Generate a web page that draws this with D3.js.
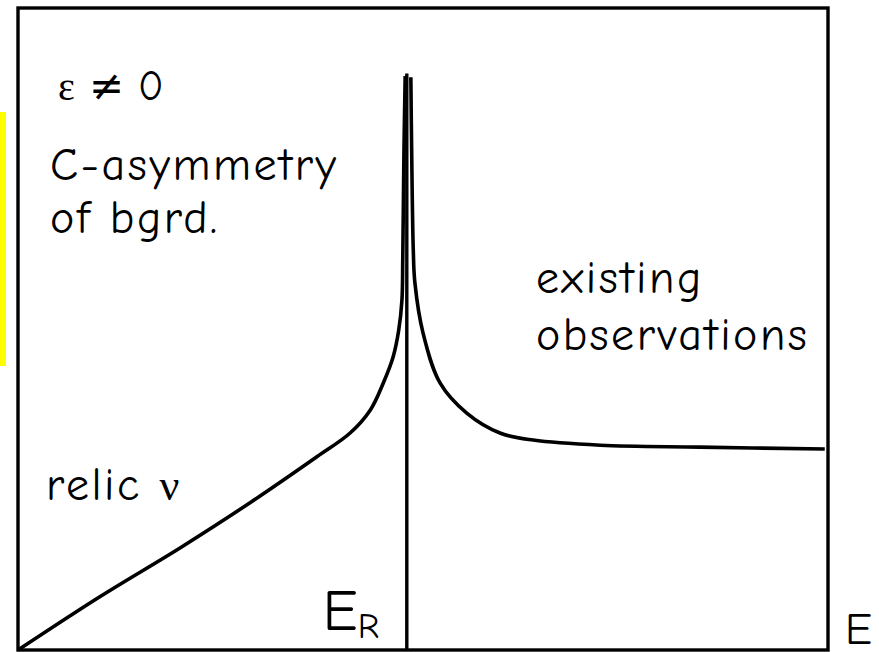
<!DOCTYPE html>
<html>
<head>
<meta charset="utf-8">
<script src="https://cdn.jsdelivr.net/npm/d3@7"></script>
<style>
  body { margin: 0; background: #fff; }
  text { font-family: "Comic Sans MS", "Comic Neue", "DejaVu Sans", sans-serif; fill: #000; }
  .greek { font-family: "Liberation Serif", "DejaVu Serif", serif; }
</style>
</head>
<body>
<div id="chart"></div>
<script>
// Spectre schématique : fond relique + résonance à E_R
const resonanceE = 48.0;
const peakFlux = 89.6;

// branche gauche (relic nu) jusqu'au pic
const leftE    = [0, 10.1, 20.0, 28.6, 36.9, 41.0, 43.5, 45.1, 46.3, 47.0, 47.4, 47.5, 47.65, 47.8];
const leftFlux = [0, 8.3, 15.9, 22.9, 30.1, 33.8, 37.4, 41.6, 45.6, 49.8, 54.5, 60.8, 77.9, 89.4];

// branche droite (existing observations)
const rightE    = [48.5, 48.6, 48.8, 49.0, 50.0, 52.1, 55.4, 59.5, 63.6, 71.9, 84.2, 99.6];
const rightFlux = [89.2, 77.9, 62.3, 57.2, 49.4, 41.6, 36.9, 33.8, 32.7, 31.9, 31.6, 31.3];

function createChart() {
    const W = 879, H = 652;
    const box = { left: 18, top: 8, right: 828, bottom: 650 };

    const svg = d3.select("#chart")
        .append("svg")
        .attr("width", W)
        .attr("height", H);

    const x = d3.scaleLinear().domain([0, 100]).range([box.left, box.right]);
    const y = d3.scaleLinear().domain([0, 100]).range([box.bottom, box.top]);

    // bande jaune à gauche
    svg.append("rect")
        .attr("x", 0).attr("y", 112)
        .attr("width", 6).attr("height", 254)
        .attr("fill", "#ffff00");

    // cadre
    svg.append("rect")
        .attr("x", box.left).attr("y", box.top)
        .attr("width", box.right - box.left)
        .attr("height", box.bottom - box.top)
        .attr("fill", "none")
        .attr("stroke", "#000")
        .attr("stroke-width", 3.4);

    const line = d3.line()
        .x(d => x(d[0]))
        .y(d => y(d[1]))
        .curve(d3.curveCatmullRom.alpha(0.5));

    const leftData = leftE.map((e, i) => [e, leftFlux[i]]);
    const rightData = rightE.map((e, i) => [e, rightFlux[i]]);

    [leftData, rightData].forEach(d => {
        svg.append("path")
            .attr("d", line(d))
            .attr("fill", "none")
            .attr("stroke", "#000")
            .attr("stroke-width", 3.6)
            .attr("stroke-linejoin", "round");
    });

    // ligne verticale de la résonance
    svg.append("line")
        .attr("x1", x(resonanceE)).attr("x2", x(resonanceE))
        .attr("y1", y(0)).attr("y2", y(peakFlux + 0.2))
        .attr("stroke", "#000")
        .attr("stroke-width", 3.4);

    // annotations
    const label = (tx, ty, t) => svg.append("text")
        .attr("x", tx).attr("y", ty)
        .style("font-size", "46px")
        .style("letter-spacing", "2.5px")
        .text(t);

    const eps = svg.append("text").attr("x", 58).attr("y", 100).style("font-size", "42px");
    eps.append("tspan").attr("class", "greek").style("font-size", "40px").text("ε");
    eps.append("tspan").text(" ≠ 0");

    label(50, 180, "C-asymmetry");
    label(50, 233, "of bgrd.");
    const relic = label(46, 500, "relic ");
    relic.append("tspan").attr("class", "greek").style("font-size", "44px")
        .style("letter-spacing", "0px").text("ν");
    label(536, 293, "existing");
    label(536, 350, "observations");

    const er = svg.append("text")
        .attr("x", x(resonanceE) - 84).attr("y", 630)
        .style("font-size", "58px");
    er.append("tspan").text("E");
    er.append("tspan").attr("dy", 8).style("font-size", "36px").text("R");

    svg.append("text").attr("x", 845).attr("y", 644)
        .style("font-size", "45px").text("E");
}

createChart();
</script>
</body>
</html>
